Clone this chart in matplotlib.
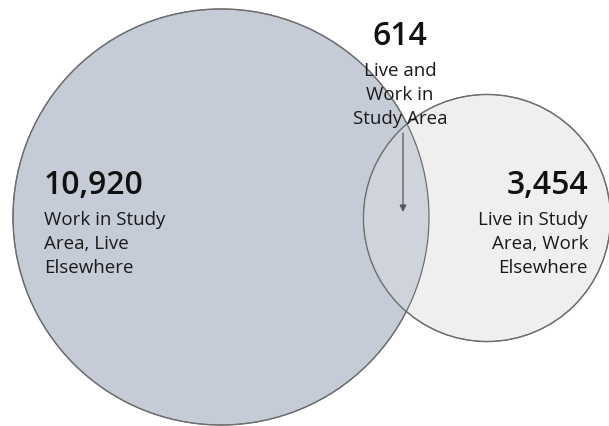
import matplotlib
matplotlib.use("Agg")
import matplotlib.pyplot as plt
from matplotlib.patches import Circle
import numpy as np

plt.rcParams['font.family'] = ['Open Sans', 'DejaVu Sans']

# data
work_only = 10920
both = 614
live_only = 3454
work_label = ["Work in Study", "Area, Live", "Elsewhere"]
both_label = ["Live and", "Work in", "Study Area"]
live_label = ["Live in Study", "Area, Work", "Elsewhere"]

# circle areas follow totals (work in area vs live in area)
work_total = work_only + both
live_total = live_only + both
r_big = 208
r_small = r_big * np.sqrt(live_total / work_total)

fig = plt.figure(figsize=(6.09, 4.27), dpi=100)
ax = fig.add_axes([0, 0, 1, 1])
ax.set_xlim(0, 609)
ax.set_ylim(427, 0)
ax.axis('off')

edge = '#6e6e6e'
big = Circle((221, 218), r_big, facecolor='#c5ccd8', edgecolor=edge, lw=0.9, zorder=1)
small = Circle((487, 219), r_small, facecolor='#efefef', edgecolor=edge, lw=0.9, zorder=2)
ax.add_patch(big)
ax.add_patch(small)

# overlap region, small circle clipped by the big one
overlap = Circle((487, 219), r_small, facecolor='#cfd3dc', edgecolor='none', zorder=3)
ax.add_patch(overlap)
overlap.set_clip_path(big)
ax.add_patch(Circle((221, 218), r_big, facecolor='none', edgecolor=edge, lw=0.9, zorder=4))
ax.add_patch(Circle((487, 219), r_small, facecolor='none', edgecolor=edge, lw=0.9, zorder=4))

num_size = 23
lab_size = 13.5
txt = '#1a1a1a'

def block(x, y, value, lines, ha):
    ax.text(x, y, f'{value:,}', fontsize=num_size, fontweight='semibold',
            ha=ha, va='baseline', color='#111111', zorder=5)
    for i, line in enumerate(lines):
        ax.text(x, y + 31 + i * 24, line, fontsize=lab_size, ha=ha,
                va='baseline', color=txt, zorder=5)

block(44, 194, work_only, work_label, 'left')
block(588, 194, live_only, live_label, 'right')
block(400, 45, both, both_label, 'center')

ax.annotate('', xy=(403, 213), xytext=(403, 134),
            arrowprops=dict(arrowstyle='-|>', color='#555555', lw=0.9,
                            mutation_scale=10, shrinkA=0, shrinkB=0), zorder=6)

fig.savefig('out.png', dpi=100)
